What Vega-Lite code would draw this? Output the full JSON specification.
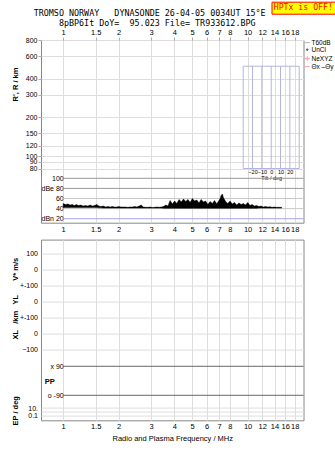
{
 "$schema": "https://vega.github.io/schema/vega-lite/v6.json",
 "padding": {"left": 10, "top": 1, "right": 0, "bottom": 0},
 "background": "#ffffff",
 "config": {
  "font": "Liberation Sans",
  "view": {"stroke": "#888888", "strokeWidth": 1},
  "axis": {"labelFont": "Liberation Sans", "labelFontSize": 7.5, "labelColor": "#000000", "titleFont": "Liberation Sans", "titleFontSize": 7.5, "titleColor": "#000000", "titleFontWeight": "bold", "gridColor": "#dddddd", "domain": false, "ticks": false, "tickSize": 0, "labelOverlap": false, "labelFlush": false, "labelBound": false, "grid": false},
  "legend": {"labelFont": "Liberation Sans"}
 },
 "datasets": {
  "noise": [
   {"f":1.00,"hi":50,"lo":42},{"f":1.03,"hi":48,"lo":42},{"f":1.06,"hi":49,"lo":42},{"f":1.09,"hi":47,"lo":42},{"f":1.12,"hi":48,"lo":42},{"f":1.15,"hi":46,"lo":42},{"f":1.18,"hi":48,"lo":42},{"f":1.21,"hi":46,"lo":42},{"f":1.25,"hi":47,"lo":42},{"f":1.28,"hi":45,"lo":42},{"f":1.32,"hi":46,"lo":42},{"f":1.36,"hi":45,"lo":42},{"f":1.40,"hi":47,"lo":42},{"f":1.44,"hi":45,"lo":42},{"f":1.48,"hi":46,"lo":42},{"f":1.52,"hi":48,"lo":42},{"f":1.56,"hi":45,"lo":41.5},{"f":1.60,"hi":44,"lo":41.5},{"f":1.65,"hi":45,"lo":41},{"f":1.70,"hi":43,"lo":41},{"f":1.75,"hi":44,"lo":41},{"f":1.80,"hi":43,"lo":41},{"f":1.85,"hi":44,"lo":41},{"f":1.90,"hi":43,"lo":41},{"f":1.95,"hi":43,"lo":41},{"f":2.00,"hi":44,"lo":41},{"f":2.06,"hi":43,"lo":41},{"f":2.12,"hi":43,"lo":41},{"f":2.18,"hi":43,"lo":41},{"f":2.24,"hi":42.5,"lo":41},{"f":2.30,"hi":43,"lo":41},{"f":2.37,"hi":43,"lo":41},{"f":2.44,"hi":44,"lo":41},{"f":2.51,"hi":43,"lo":41},{"f":2.58,"hi":45,"lo":41},{"f":2.65,"hi":47,"lo":41},{"f":2.72,"hi":43,"lo":41},{"f":2.80,"hi":42.5,"lo":41},{"f":2.88,"hi":42.5,"lo":41},{"f":2.96,"hi":43,"lo":41},{"f":3.04,"hi":42,"lo":41},{"f":3.13,"hi":42.5,"lo":41},{"f":3.22,"hi":43,"lo":41},{"f":3.31,"hi":42.5,"lo":41},{"f":3.40,"hi":43,"lo":41},{"f":3.50,"hi":44,"lo":40.5},{"f":3.60,"hi":47,"lo":40.5},{"f":3.70,"hi":45,"lo":40.5},{"f":3.80,"hi":56,"lo":40.5},{"f":3.91,"hi":49,"lo":40.5},{"f":4.02,"hi":55,"lo":40.5},{"f":4.13,"hi":50,"lo":40.5},{"f":4.25,"hi":58,"lo":40.5},{"f":4.37,"hi":53,"lo":40.5},{"f":4.49,"hi":59,"lo":40.5},{"f":4.62,"hi":54,"lo":40.5},{"f":4.75,"hi":58,"lo":40.5},{"f":4.88,"hi":52,"lo":40.5},{"f":5.02,"hi":60,"lo":40.5},{"f":5.16,"hi":55,"lo":40.5},{"f":5.30,"hi":57,"lo":40.5},{"f":5.45,"hi":51,"lo":40.5},{"f":5.60,"hi":58,"lo":40.5},{"f":5.76,"hi":53,"lo":40.5},{"f":5.92,"hi":55,"lo":40.5},{"f":6.09,"hi":48,"lo":40.5},{"f":6.26,"hi":54,"lo":40.5},{"f":6.44,"hi":50,"lo":40.5},{"f":6.62,"hi":56,"lo":40.5},{"f":6.80,"hi":49,"lo":40.5},{"f":6.99,"hi":56,"lo":40.5},{"f":7.10,"hi":60,"lo":40.5},{"f":7.19,"hi":66,"lo":40.5},{"f":7.30,"hi":69,"lo":40.5},{"f":7.39,"hi":62,"lo":40.5},{"f":7.60,"hi":54,"lo":40.5},{"f":7.81,"hi":50,"lo":40.5},{"f":8.03,"hi":55,"lo":40.5},{"f":8.26,"hi":49,"lo":40.5},{"f":8.49,"hi":52,"lo":40.5},{"f":8.73,"hi":47,"lo":40.5},{"f":8.97,"hi":51,"lo":40.5},{"f":9.22,"hi":48,"lo":40.5},{"f":9.48,"hi":50,"lo":40.5},{"f":9.75,"hi":47,"lo":40.5},{"f":10.02,"hi":52,"lo":40.5},{"f":10.30,"hi":46,"lo":40.5},{"f":10.59,"hi":48,"lo":40.5},{"f":10.89,"hi":45,"lo":40.5},{"f":11.20,"hi":46,"lo":40.5},{"f":11.51,"hi":44,"lo":41},{"f":11.83,"hi":45,"lo":41},{"f":12.16,"hi":43,"lo":41},{"f":12.50,"hi":44,"lo":41},{"f":12.85,"hi":43,"lo":41},{"f":13.21,"hi":43.5,"lo":41},{"f":13.58,"hi":42.5,"lo":41},{"f":13.96,"hi":43,"lo":41},{"f":14.35,"hi":42.5,"lo":41},{"f":14.75,"hi":42.5,"lo":41},{"f":15.15,"hi":42.5,"lo":41},{"f":15.30,"hi":42.5,"lo":41}
  ]
 },
 "vconcat": [
  {
   "width": 262.5,
   "height": 182.7,
   "layer": [
    {
     "data": {"values": [{"series": "T60dB", "f": null, "r": null}, {"series": "UnCl", "f": null, "r": null}, {"series": "NeXYZ", "f": null, "r": null}, {"series": "Θx –Θy", "f": null, "r": null}]},
     "mark": {"type": "point", "filled": false, "strokeWidth": 1},
     "encoding": {
      "x": {"field": "f", "type": "quantitative", "scale": {"type": "log", "domain": [0.758, 20.1], "nice": false},
            "axis": {"orient": "top", "values": [1, 1.5, 2, 3, 4, 5, 6, 7, 8, 10, 12, 14, 16, 18], "format": "~g", "ticks": true, "tickSize": 3, "tickColor": "#aaaaaa", "labelPadding": 0.5,
                     "title": ["TROMSO NORWAY\u00a0\u00a0\u00a0DYNASONDE 26-04-05 0034UT 15°E", "\u200b\u00a0\u00a0\u00a0\u00a0\u00a08pBP6It DoY=\u00a0\u00a095.023 File= TR933612.BPG"],
                     "titleFont": "DejaVu Sans Mono", "titleFontSize": 8.4, "titleFontWeight": "normal", "titleX": -7.8, "titleY": -24.7, "titleAlign": "left", "titleBaseline": "alphabetic", "titleLineHeight": 10}},
      "y": {"field": "r", "type": "quantitative", "scale": {"type": "log", "domain": [30.3, 800], "nice": false},
            "axis": {"orient": "left", "values": [80, 90, 100, 120, 150, 200, 300, 400, 600, 800], "format": "~g", "grid": true, "ticks": true, "tickSize": 3, "tickColor": "#aaaaaa", "labelPadding": 1, "labelFontSize": 7,
                     "title": "R', R / km", "titleX": -25.5, "titleY": 44, "titleAngle": -90, "titleBaseline": "middle", "titleAlign": "center"}},
      "color": {"field": "series", "type": "nominal", "scale": {"domain": ["T60dB", "UnCl", "NeXYZ", "Θx –Θy"], "range": ["#999999", "#000000", "#ff6f8f", "#ff6f8f"]},
                "legend": {"orient": "none", "legendX": 263, "legendY": -0.6, "title": null, "direction": "vertical", "labelFontSize": 6.5, "labelColor": "#000000", "symbolSize": 25, "symbolStrokeWidth": 1, "labelOffset": 1, "rowPadding": 0, "padding": 0}},
      "shape": {"field": "series", "type": "nominal", "scale": {"domain": ["T60dB", "UnCl", "NeXYZ", "Θx –Θy"], "range": ["stroke", "M-0.25,-0.25H0.25V0.25H-0.25Z", "M-1,0H1M0,-1V1", "stroke"]},
                "legend": {"orient": "none", "legendX": 263, "legendY": -0.6, "title": null, "direction": "vertical", "labelFontSize": 6.5, "labelColor": "#000000", "symbolSize": 25, "symbolStrokeWidth": 1, "labelOffset": 1, "rowPadding": 0, "padding": 0}}
     }
    },
    {
     "layer": [
      {
       "data": {"values": [{"t1": -30, "t2": 30, "r1": 80, "r2": 500}]},
       "mark": {"type": "rect", "fill": "transparent", "stroke": "#b4b4dc", "strokeWidth": 1},
       "encoding": {
        "x": {"field": "t1", "type": "quantitative", "scale": {"domain": [-246.6, 34.6], "nice": false, "zero": false},
              "axis": {"orient": "bottom", "offset": -54, "values": [-20, -10, 0, 10, 20], "format": "~g", "labelFontSize": 5.5, "labelPadding": 1, "title": "Tilt / deg", "titleFontSize": 5.5, "titleFontWeight": "normal", "titlePadding": 0.5, "titleX": 230.2, "titleAlign": "center", "grid": false}},
        "x2": {"field": "t2"},
        "y": {"field": "r1", "type": "quantitative", "scale": {"type": "log", "domain": [30.3, 800], "nice": false}, "axis": null},
        "y2": {"field": "r2"}
       }
      },
      {
       "data": {"values": [{"tilt": -20}, {"tilt": -10}, {"tilt": 0}, {"tilt": 10}, {"tilt": 20}]},
       "mark": {"type": "rule", "stroke": "#b4b4dc", "strokeWidth": 1},
       "encoding": {
        "x": {"field": "tilt", "type": "quantitative", "scale": {"domain": [-246.6, 34.6], "nice": false, "zero": false}},
        "y": {"datum": 80, "type": "quantitative", "scale": {"type": "log", "domain": [30.3, 800], "nice": false}},
        "y2": {"datum": 500}
       }
      }
     ]
    },
    {
     "layer": [
      {
       "data": {"values": [{"db": 100}, {"db": 80}]},
       "mark": {"type": "rule", "stroke": "#999999", "strokeWidth": 1},
       "encoding": {
        "x": {"datum": 1, "type": "quantitative", "scale": {"type": "log", "domain": [0.758, 20.1], "nice": false}, "axis": null},
        "x2": {"datum": 20.1},
        "y": {"field": "db", "type": "quantitative", "scale": {"domain": [12.1, 373.8], "nice": false, "zero": false}, "axis": null}
       }
      },
      {
       "data": {"values": [{"db": 60}, {"db": 40}]},
       "mark": {"type": "rule", "stroke": "#c8c8c8", "strokeWidth": 1},
       "encoding": {
        "x": {"datum": 1, "type": "quantitative", "scale": {"type": "log", "domain": [0.758, 20.1], "nice": false}, "axis": null},
        "x2": {"datum": 20.1},
        "y": {"field": "db", "type": "quantitative", "scale": {"domain": [12.1, 373.8], "nice": false, "zero": false}, "axis": null}
       }
      },
      {
       "data": {"values": [{"db": 20}]},
       "mark": {"type": "rule", "stroke": "#a4a4f0", "strokeWidth": 1},
       "encoding": {
        "x": {"datum": 1, "type": "quantitative", "scale": {"type": "log", "domain": [0.758, 20.1], "nice": false}, "axis": null},
        "x2": {"datum": 20.1},
        "y": {"field": "db", "type": "quantitative", "scale": {"domain": [12.1, 373.8], "nice": false, "zero": false}, "axis": null}
       }
      }
     ]
    },
    {
     "data": {"name": "noise"},
     "mark": {"type": "area", "color": "#000000", "stroke": "#000000", "strokeWidth": 0.5},
     "encoding": {
      "x": {"field": "f", "type": "quantitative", "scale": {"type": "log", "domain": [0.758, 20.1], "nice": false},
            "axis": {"orient": "bottom", "values": [1, 1.5, 2, 3, 4, 5, 6, 7, 8, 10, 12, 14, 16, 18], "format": "~g", "grid": true, "labelPadding": 2.5, "title": null}},
      "y": {"field": "hi", "type": "quantitative", "scale": {"domain": [12.1, 373.8], "nice": false, "zero": false},
            "axis": {"orient": "left", "values": [100, 80, 60, 40, 20], "labelExpr": "datum.value == 80 ? 'dBe 80' : datum.value == 20 ? 'dBn 20' : datum.label", "labelAlign": "right", "labelPadding": -22.2, "labelFontSize": 7, "title": null, "grid": false}},
      "y2": {"field": "lo"}
     }
    },
    {
     "data": {"values": [{"flag": "HPTx is OFF!"}]},
     "mark": {"type": "point", "filled": true, "opacity": 0},
     "encoding": {
      "fill": {"field": "flag", "type": "nominal", "scale": {"range": ["#ff0000"]},
               "legend": {"orient": "none", "legendX": 230.5, "legendY": -38.3, "title": null, "fillColor": "#ffff00", "strokeColor": "#ff0000", "padding": 2, "labelFont": "DejaVu Sans Mono", "labelFontSize": 8.2, "labelColor": "#ff0000", "symbolType": "circle", "symbolSize": 0, "symbolStrokeWidth": 0, "symbolOpacity": 0, "labelOffset": -8}}
     }
    }
   ],
   "resolve": {"scale": {"x": "independent", "y": "independent"}, "axis": {"x": "independent", "y": "independent"}}
  },
  {
   "width": 262.5,
   "height": 180.7,
   "layer": [
    {
     "data": {"values": []},
     "mark": "rule",
     "encoding": {
      "y": {"field": "v", "type": "quantitative", "scale": {"domain": [-941.9, 187.5], "nice": false, "zero": false},
            "axis": {"orient": "left", "values": [100, 0, -100], "labelExpr": "datum.value == -100 ? '+-100' : datum.label", "grid": true, "labelPadding": 3.5, "labelFontSize": 7,
                     "title": "V* m/s", "titleX": -25.5, "titleY": 29.2, "titleAngle": -90, "titleBaseline": "middle", "titleAlign": "center"}}
     }
    },
    {
     "data": {"values": []},
     "mark": "rule",
     "encoding": {
      "y": {"field": "yl", "type": "quantitative", "scale": {"domain": [-743.75, 385.6], "nice": false, "zero": false},
            "axis": {"orient": "left", "values": [0, -100], "labelExpr": "datum.value == -100 ? '+-100' : datum.label", "grid": true, "labelPadding": 3.5, "labelFontSize": 7, "title": null}}
     }
    },
    {
     "data": {"values": []},
     "mark": "rule",
     "encoding": {
      "y": {"field": "xl", "type": "quantitative", "scale": {"domain": [-543.75, 585.6], "nice": false, "zero": false},
            "axis": {"orient": "left", "values": [0, -100], "grid": true, "labelPadding": 3.5, "labelFontSize": 7,
                     "title": "XL\u00a0\u00a0\u00a0/km\u00a0\u00a0\u00a0YL", "titleX": -25.5, "titleY": 77.2, "titleAngle": -90, "titleBaseline": "middle", "titleAlign": "center"}}
     }
    },
    {
     "data": {"values": [{"pp": 90, "f1": 1, "f2": 20.1}, {"pp": -90, "f1": 1, "f2": 20.1}]},
     "mark": {"type": "rule", "stroke": "#666666", "strokeWidth": 1},
     "encoding": {
      "x": {"field": "f1", "type": "quantitative", "scale": {"type": "log", "domain": [0.758, 20.1], "nice": false},
            "axis": {"orient": "bottom", "values": [1, 1.5, 2, 3, 4, 5, 6, 7, 8, 10, 12, 14, 16, 18], "format": "~g", "grid": true, "labelPadding": 2.5,
                     "title": "Radio and Plasma Frequency / MHz", "titleFontWeight": "normal", "titlePadding": 4}},
      "x2": {"field": "f2"},
      "y": {"field": "pp", "type": "quantitative", "scale": {"domain": [-245.2, 876.4], "nice": false, "zero": false},
            "axis": {"orient": "left", "values": [90, -90], "labelExpr": "datum.value > 0 ? 'x 90' : 'o -90'", "labelAlign": "right", "labelPadding": -22.2, "labelFontSize": 7, "grid": false,
                     "title": "PP", "titleAngle": 0, "titleAlign": "left", "titleBaseline": "middle", "titleX": 3.2, "titleY": 141.7}}
     }
    },
    {
     "data": {"values": []},
     "mark": "rule",
     "encoding": {
      "y": {"field": "ep", "type": "quantitative", "scale": {"domain": [-5.6, 223.7], "nice": false, "zero": false},
            "axis": {"orient": "left", "values": [10, 5, 0.1], "labelExpr": "datum.value == 10 ? '10.' : datum.value == 5 ? '' : '0.1'", "grid": true, "labelPadding": 3.5, "labelFontSize": 7,
                     "title": "EP / deg", "titleX": -25.5, "titleY": 170.7, "titleAngle": -90, "titleBaseline": "middle", "titleAlign": "center"}}
     }
    }
   ],
   "resolve": {"scale": {"y": "independent"}, "axis": {"y": "independent"}}
  }
 ],
 "spacing": 16.6,
 "bounds": "flush"
}
